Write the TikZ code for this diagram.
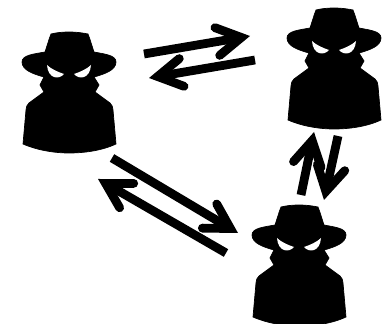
\documentclass[tikz,border=0pt]{standalone}
\usepackage{tikz}
\usetikzlibrary{calc}

\tikzset{
  stem/.style={line width=5pt},
  barb/.style={line width=5pt,line cap=round,line join=miter,miter limit=10},
  spy/.pic={
    \filldraw[black,line width=0.4pt] (0,0) .. controls (-8,0) and (-14,1) .. (-18,2) .. controls (-20,7) and (-22,14) .. (-24,20)
      .. controls (-35,22) and (-47,23) .. (-47,30) .. controls (-47,38) and (-36,42) .. (-25,45)
      -- (-29,53) -- (-25,60) -- (-40,71) .. controls (-42,73) and (-43,75) .. (-43,78) -- (-46,112)
      .. controls (-30,119) and (-12,121) .. (0,121) .. controls (14,121) and (32,119) .. (47,112)
      -- (44,78) .. controls (44,75) and (43,73) .. (41,71) -- (26,60) -- (30,53) -- (25,45)
      .. controls (36,42) and (47,38) .. (47,30) .. controls (47,23) and (35,22) .. (25,20)
      .. controls (23,14) and (21,7) .. (19,2) .. controls (14,1) and (8,0) .. (0,0) -- cycle;
    \fill[white] (-22,33) .. controls (-18,37) and (-11,40) .. (-5,42) .. controls (-10,48) and (-21,47) .. (-22,33) -- cycle;
    \fill[white] (22,33) .. controls (18,37) and (11,40) .. (5,42) .. controls (10,48) and (21,47) .. (22,33) -- cycle;
  }
}
\newcommand{\flowarrow}[2]{
  \coordinate (v) at ($(#2)!5pt!(#1)$);
  \draw[stem] (#1) -- (v);
  \draw[barb] ($(v)!16pt!30:(#1)$) -- (v) -- ($(v)!16pt!-30:(#1)$);
}

\begin{document}
\begin{tikzpicture}[x=0.02cm,y=-0.02cm]
\useasboundingbox[fill=white] (0,0) rectangle (382,324);
% the three figures
\pic (spyleft) at (69,32) {spy};
\pic (spyright) at (334,8) {spy};
\pic (spybottom) at (299,205) {spy};
% free ends of the arrows
\coordinate (la) at (144,54);
\coordinate (ra) at (250,36);
\coordinate (rb) at (255,60);
\coordinate (lb) at (149,78);
\coordinate (bc) at (301,195);
\coordinate (tc) at (314,132);
\coordinate (td) at (338,136);
\coordinate (bd) at (324,200);
\coordinate (le) at (112,158);
\coordinate (re) at (238,233);
\coordinate (rf) at (226,253);
\coordinate (lf) at (98,179);
\flowarrow{la}{ra}
\flowarrow{rb}{lb}
\flowarrow{bc}{tc}
\flowarrow{td}{bd}
\flowarrow{le}{re}
\flowarrow{rf}{lf}
\end{tikzpicture}
\end{document}
